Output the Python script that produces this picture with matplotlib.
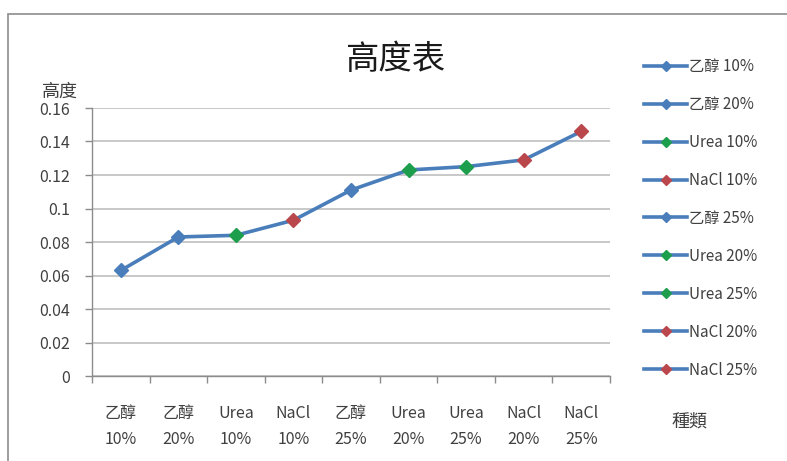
import matplotlib
matplotlib.use("Agg")
import matplotlib.pyplot as plt
from matplotlib.patches import Rectangle

plt.rcParams['font.family'] = ['Noto Sans CJK TC', 'DejaVu Sans']

categories = ["乙醇 10%", "乙醇 20%", "Urea 10%", "NaCl 10%", "乙醇 25%",
              "Urea 20%", "Urea 25%", "NaCl 20%", "NaCl 25%"]
tick_labels = ["乙醇\n10%", "乙醇\n20%", "Urea\n10%", "NaCl\n10%", "乙醇\n25%",
               "Urea\n20%", "Urea\n25%", "NaCl\n20%", "NaCl\n25%"]
heights = [0.063, 0.083, 0.084, 0.093, 0.111, 0.123, 0.125, 0.129, 0.146]
groups = ["乙醇", "乙醇", "Urea", "NaCl", "乙醇", "Urea", "Urea", "NaCl", "NaCl"]
y_ticks = [0, 0.02, 0.04, 0.06, 0.08, 0.1, 0.12, 0.14, 0.16]
y_tick_labels = ["0", "0.02", "0.04", "0.06", "0.08", "0.1", "0.12", "0.14", "0.16"]

LINE = "#4a7ebb"
GROUP_COLORS = {"乙醇": "#4a7ebb", "Urea": "#1c9e4c", "NaCl": "#b9474b"}
TEXT = "#404040"

fig = plt.figure(figsize=(7.87, 4.61), dpi=100)
fig.patch.set_facecolor("white")

# chart-area frame
fig.patches.append(Rectangle((8 / 787, -0.05), 1.0, 1 - 14 / 461 + 0.05,
                             transform=fig.transFigure, fill=False,
                             edgecolor="#8c8c8c", linewidth=1.2))

ax = fig.add_axes([92 / 787, 85 / 461, 518 / 787, 268 / 461])
x = list(range(len(heights)))

ax.plot(x, heights, color=LINE, linewidth=2.6, zorder=3)
for xi, h, lab, g in zip(x, heights, categories, groups):
    c = GROUP_COLORS[g]
    ax.plot([xi], [h], color=LINE, linewidth=2.6, marker="D", markersize=7,
            markerfacecolor=c, markeredgecolor=c, label=lab, zorder=4)

ax.set_xlim(-0.5, len(heights) - 0.5)
ax.set_ylim(0, 0.16)
ax.set_yticks(y_ticks)
ax.set_yticklabels(y_tick_labels)
ax.yaxis.grid(True, color="#c8c8c8", linewidth=1.4)
ax.set_axisbelow(True)

ax.set_xticks(x)
ax.set_xticklabels(tick_labels, linespacing=1.7)
ax.set_xticks([i + 0.5 for i in range(-1, len(heights))], minor=True)
ax.tick_params(axis="x", which="major", length=0, pad=21, labelsize=11.5, labelcolor=TEXT)
ax.tick_params(axis="x", which="minor", length=5, color="#8c8c8c", width=1)
ax.tick_params(axis="y", length=5, color="#8c8c8c", width=1, pad=11,
               labelsize=11.5, labelcolor=TEXT)

for side in ("top", "right"):
    ax.spines[side].set_visible(False)
for side in ("left", "bottom"):
    ax.spines[side].set_color("#8c8c8c")
    ax.spines[side].set_linewidth(1)

fig.text(395 / 787, 1 - 60 / 461, "高度表", fontsize=24, ha="center", va="center",
         color="#1a1a1a")
fig.text(60 / 787, 1 - 92 / 461, "高度", fontsize=13, ha="center", va="center",
         color=TEXT)
fig.text(690 / 787, 1 - 423 / 461, "種類", fontsize=13, ha="center", va="center",
         color=TEXT)

leg = fig.legend(loc="upper left", bbox_to_anchor=(638 / 787, 1 - 52 / 461),
                 frameon=False, fontsize=11, handlelength=2.8, handletextpad=0.15,
                 labelspacing=1.37, borderaxespad=0, markerscale=0.75)
for t in leg.get_texts():
    t.set_color(TEXT)

fig.savefig("out.png", dpi=100, facecolor="white")
